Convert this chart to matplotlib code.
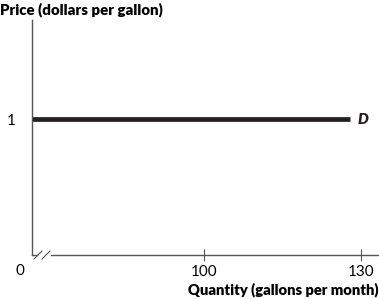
import matplotlib.pyplot as plt
from matplotlib.lines import Line2D

plt.rcParams['font.family'] = ['Lato', 'DejaVu Sans']

# demand curve data (horizontal at price 1)
quantity = [67, 128]
price = [1, 1]
x_ticks = [100, 130]
x_ticklabels = ["100", "130"]
y_ticks = [1]
y_ticklabels = ["1"]

fig = plt.figure(figsize=(3.79, 2.99), dpi=100)
ax = fig.add_axes([32 / 379, 44 / 299, 346 / 379, 235 / 299])

ax.plot(quantity, price, color='#231f20', lw=3.4, solid_capstyle='butt')
ax.text(quantity[1] + 1.3, price[1], "D", fontsize=11, fontweight='heavy',
        style='italic', va='center', ha='left', color='#231f20')

ax.set_xlim(67, 133.3)
ax.set_ylim(0, 1.73)

for s in ['top', 'right', 'bottom']:
    ax.spines[s].set_visible(False)
ax.spines['left'].set_color('#555555')
ax.spines['left'].set_linewidth(1.0)

ax.set_xticks(x_ticks)
ax.set_xticklabels(x_ticklabels, fontsize=11)
ax.set_yticks(y_ticks)
ax.set_yticklabels(y_ticklabels, fontsize=11)
ax.tick_params(axis='x', direction='inout', length=8, width=0.8, color='#555555', pad=3)
ax.tick_params(axis='y', length=0, pad=12)

# x axis with break marks
tr = ax.transAxes
w = 346
ax.add_line(Line2D([0, 5 / w], [0, 0], transform=tr, color='#555555', lw=1.0, clip_on=False))
ax.add_line(Line2D([19 / w, 1], [0, 0], transform=tr, color='#555555', lw=1.0, clip_on=False))
for x0 in [5 / w, 13 / w]:
    ax.add_line(Line2D([x0 - 3 / w, x0 + 5 / w], [-4 / 235, 4 / 235], transform=tr,
                       color='#555555', lw=0.8, clip_on=False))

fig.text(20 / 379, 1 - 271 / 299, "0", fontsize=11, ha='center', va='center')
fig.text(0, 1 - 10 / 299, "Price (dollars per gallon)", fontsize=10.8, fontweight='heavy',
         ha='left', va='center')
fig.text(1 - 1 / 379, 1 - 290 / 299, "Quantity (gallons per month)", fontsize=10.6,
         fontweight='heavy', ha='right', va='center')

fig.savefig('out.png', dpi=100)
